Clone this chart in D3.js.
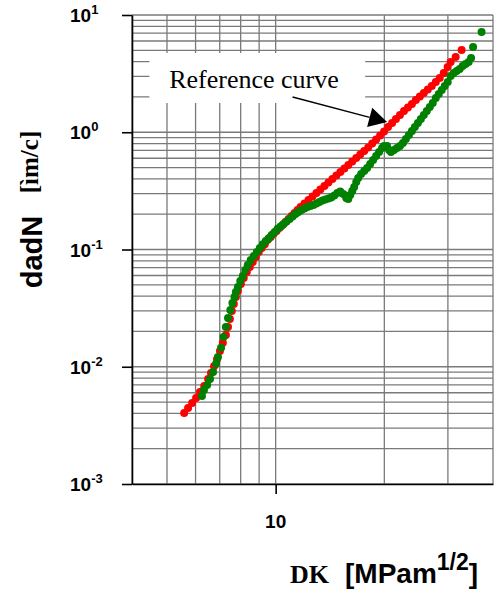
<!DOCTYPE html>
<html>
<head>
<meta charset="utf-8">
<script src="https://cdnjs.cloudflare.com/ajax/libs/d3/7.8.5/d3.min.js"></script>
<style>
body { margin:0; background:#fff; }
svg { display:block; }
.grid line { stroke:#7a7a7a; stroke-width:1.3; }
.axis path, .axis line { stroke:#000; stroke-width:1.6; }
</style>
</head>
<body>
<div id="chart"></div>
<script>
// reference curve (red) - dK [MPa m^1/2] and da/dN
var refK = [5.58,5.72,5.87,6.02,6.17,6.34,6.50,6.62,6.75,6.88,7.01,7.14,7.28,7.38,7.47,7.56,7.66,7.76,7.86,8.01,
    8.16,8.32,8.48,8.64,8.81,8.98,9.15,9.33,9.51,9.69,9.87,10.06,10.26,10.45,10.65,10.86,11.07,11.28,11.50,
    11.72,12.02,12.33,12.65,12.97,13.30,13.65,14.00,14.36,14.73,15.11,15.50,15.90,16.30,16.72,17.15,17.59,18.04,18.51,18.98,
    19.47,19.97,20.48,21.01,21.54,22.10,22.67,23.25,23.85,24.46,25.09,25.73,26.39,27.07,27.77,28.48,29.21,29.96,30.53,31.52,32.74];
var refRate = [0.00404,0.00445,0.00491,0.00541,0.0061,0.00686,0.00787,0.00885,0.0101,0.0116,0.0136,0.0160,0.0187,0.0218,0.0255,0.0299,0.0343,0.0394,0.0443,0.0508,
    0.0571,0.0643,0.0710,0.0782,0.0863,0.0953,0.103,0.111,0.121,0.128,0.136,0.144,0.153,0.162,0.172,0.182,0.193,0.205,0.217,
    0.2305,0.2468,0.2644,0.2831,0.3033,0.3248,0.3479,0.3726,0.3993,0.4277,0.4581,0.4906,0.5255,0.5629,0.6030,0.6458,0.6920,0.7410,0.8020,0.8673,
    0.9383,1.015,1.109,1.199,1.297,1.403,1.518,1.626,1.741,1.884,2.018,2.161,2.315,2.480,2.684,2.902,3.202,3.602,3.973,4.384,5.030];

// measured curve (green)
var testK = [6.25,6.33,6.46,6.58,6.71,6.84,6.92,7.06,7.17,7.28,7.38,7.49,7.59,7.69,7.76,7.86,7.98,8.11,8.24,8.37,
    8.53,8.70,8.87,9.04,9.21,9.39,9.57,9.75,9.94,10.13,10.32,10.52,10.72,10.93,11.14,11.35,11.57,11.79,12.02,12.25,
    12.49,12.73,12.97,13.22,13.47,13.73,14.00,14.26,14.54,14.82,15.10,15.39,15.69,15.89,16.09,16.30,16.50,16.72,16.93,17.25,
    17.59,17.92,18.27,18.62,18.98,19.34,19.71,19.96,20.35,20.61,20.87,21.27,21.68,22.10,22.52,22.95,23.40,23.85,24.30,24.77,
    25.25,25.73,26.23,26.73,27.24,27.77,28.30,28.85,29.40,29.96,30.54,31.13,31.73,32.34,32.96,33.59,34.24,34.78,35.23,37.18];
var testRate = [0.00563,0.00633,0.00699,0.00786,0.00902,0.0106,0.0121,0.0145,0.0179,0.0218,0.0261,0.0305,0.0350,0.0394,0.0434,0.0479,0.0539,0.0594,0.0669,0.0738,
    0.0814,0.0880,0.0952,0.103,0.111,0.118,0.125,0.133,0.141,0.150,0.157,0.165,0.173,0.182,0.191,0.201,0.209,0.217,0.224,0.230,
    0.235,0.240,0.247,0.254,0.262,0.267,0.272,0.278,0.289,0.303,0.312,0.297,0.275,0.270,0.292,0.315,0.341,0.376,0.407,0.441,
    0.467,0.496,0.536,0.580,0.627,0.679,0.734,0.763,0.763,0.706,0.679,0.706,0.734,0.763,0.810,0.876,0.947,1.025,1.109,1.199,
    1.297,1.403,1.518,1.642,1.776,1.959,2.120,2.293,2.480,2.684,3.018,3.202,3.330,3.462,3.673,3.820,3.973,4.299,5.334,7.161];

var yTicks = [1e-3, 1e-2, 1e-1, 1e0, 1e1];
var yTickExp = ["-3", "-2", "-1", "0", "1"];
var xTicks = [10];
var xGridVals = [4, 5, 6, 7, 8, 9, 10, 20, 30, 40];

var svgWidth = 494, svgHeight = 596;
var margin = {top: 15, left: 132, right: 1, bottom: 112};
var chartWidth = svgWidth - margin.left - margin.right;
var chartHeight = svgHeight - margin.top - margin.bottom;

var svg = d3.select("#chart").append("svg")
    .attr("width", svgWidth)
    .attr("height", svgHeight);

var chartGroup = svg.append("g")
    .attr("transform", `translate(${margin.left},${margin.top})`);

var xScale = d3.scaleLog().domain([4, 40]).range([0, chartWidth]);
var yScale = d3.scaleLog().domain([1e-3, 1e1]).range([chartHeight, 0]);

// minor + major grid for every decade
var yGridVals = [];
for (var e = -3; e <= 0; e++) {
    for (var k = 1; k <= 9; k++) yGridVals.push(k * Math.pow(10, e));
}
yGridVals.push(10);

var grid = chartGroup.append("g").attr("class", "grid");
grid.selectAll("line.h").data(yGridVals).enter().append("line")
    .attr("class", "h")
    .attr("x1", 0).attr("x2", chartWidth)
    .attr("y1", d => yScale(d)).attr("y2", d => yScale(d));
grid.selectAll("line.v").data(xGridVals).enter().append("line")
    .attr("class", "v")
    .attr("x1", d => xScale(d)).attr("x2", d => xScale(d))
    .attr("y1", 0).attr("y2", chartHeight);

// axes
chartGroup.append("g")
    .attr("class", "axis")
    .call(d3.axisLeft(yScale).tickValues(yTicks).tickSize(10).tickSizeOuter(0).tickFormat(""));
chartGroup.append("g")
    .attr("class", "axis")
    .attr("transform", `translate(0,${chartHeight})`)
    .call(d3.axisBottom(xScale).tickValues(xTicks).tickSize(10).tickSizeOuter(0).tickFormat(""));

// tick labels with superscripts
var yLab = chartGroup.append("g").selectAll("text")
    .data(yTicks).enter().append("text")
    .attr("x", -62)
    .attr("y", d => yScale(d) + 7)
    .style("font-family", "'Liberation Sans', Arial, sans-serif")
    .style("font-weight", "bold")
    .style("font-size", "19px");
yLab.append("tspan").text("10");
yLab.append("tspan")
    .attr("dy", -8)
    .style("font-size", "13px")
    .text((d, i) => yTickExp[i]);

chartGroup.append("g").selectAll("text")
    .data(xTicks).enter().append("text")
    .attr("x", d => xScale(d))
    .attr("y", chartHeight + 44)
    .attr("text-anchor", "middle")
    .style("font-family", "'Liberation Sans', Arial, sans-serif")
    .style("font-weight", "bold")
    .style("font-size", "19px")
    .text(d => d);

// data points
chartGroup.append("g").selectAll("circle")
    .data(refK).enter().append("circle")
    .attr("cx", d => xScale(d))
    .attr("cy", (d, i) => yScale(refRate[i]))
    .attr("r", 4)
    .attr("fill", "#ff0000");

chartGroup.append("g").selectAll("circle")
    .data(testK).enter().append("circle")
    .attr("cx", d => xScale(d))
    .attr("cy", (d, i) => yScale(testRate[i]))
    .attr("r", 4)
    .attr("fill", "#008000");

// annotation box + arrow
var x0 = xScale(4.47), x1 = xScale(17.7);
var y0 = yScale(4.74), y1 = yScale(1.776);
chartGroup.append("rect")
    .attr("x", x0).attr("y", y0)
    .attr("width", x1 - x0).attr("height", y1 - y0)
    .attr("fill", "#fff");
chartGroup.append("text")
    .attr("x", xScale(5.07))
    .attr("y", yScale(2.384))
    .style("font-family", "'Liberation Serif', 'Times New Roman', serif")
    .style("font-size", "26px")
    .text("Reference curve");

var ax = xScale(11.14), ay = yScale(2.0);
var tx = xScale(20.35), ty = yScale(1.223);
var len = Math.hypot(tx - ax, ty - ay);
var ux = (tx - ax) / len, uy = (ty - ay) / len;
var bx = tx - ux * 18, by = ty - uy * 18;
chartGroup.append("line")
    .attr("x1", ax).attr("y1", ay)
    .attr("x2", bx).attr("y2", by)
    .attr("stroke", "#000").attr("stroke-width", 1.5);
chartGroup.append("polygon")
    .attr("points", [[tx, ty], [bx - uy * 10, by + ux * 10], [bx + uy * 10, by - ux * 10]].map(p => p.join(",")).join(" "))
    .attr("fill", "#000");

// axis titles
svg.append("text")
    .attr("transform", "translate(42,252) rotate(-90)")
    .attr("text-anchor", "middle")
    .style("font-family", "'Liberation Sans', Arial, sans-serif")
    .style("font-weight", "bold")
    .style("font-size", "29px")
    .text("dadN");
svg.append("text")
    .attr("transform", "translate(38,162) rotate(-90)")
    .attr("text-anchor", "middle")
    .style("font-family", "'Liberation Serif', 'Times New Roman', serif")
    .style("font-weight", "bold")
    .style("font-size", "25px")
    .text("[ìm/c]");

svg.append("text")
    .attr("x", 290).attr("y", 583)
    .style("font-family", "'Liberation Serif', 'Times New Roman', serif")
    .style("font-weight", "bold")
    .style("font-size", "26px")
    .text("DK");
var xt = svg.append("text")
    .attr("x", 345).attr("y", 583)
    .style("font-family", "'Liberation Sans', Arial, sans-serif")
    .style("font-weight", "bold")
    .style("font-size", "28px");
xt.append("tspan").text("[MPam");
xt.append("tspan").attr("dy", -13).style("font-size", "23px").text("1/2");
xt.append("tspan").attr("dy", 13).text("]");
</script>
</body>
</html>
